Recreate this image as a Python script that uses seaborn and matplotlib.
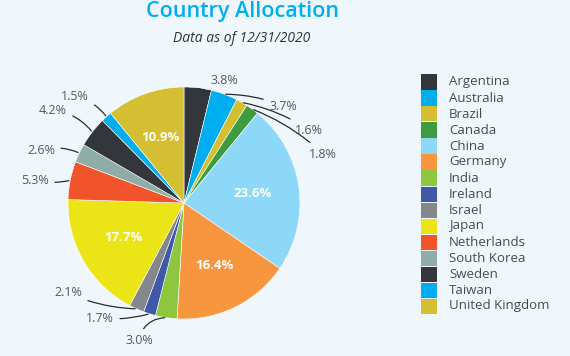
import numpy as np
import matplotlib
matplotlib.use('Agg')
import matplotlib.pyplot as plt
from matplotlib.patches import Rectangle
import seaborn as sns

# ---- data ----
countries = ['Argentina', 'Australia', 'Brazil', 'Canada', 'China', 'Germany', 'India',
             'Ireland', 'Israel', 'Japan', 'Netherlands', 'South Korea', 'Sweden',
             'Taiwan', 'United Kingdom']
weights = [3.8, 3.7, 1.6, 1.8, 23.6, 16.4, 3.0, 1.7, 2.1, 17.7, 5.3, 2.6, 4.2, 1.5, 10.9]
colors = ['#33363b', '#00aeef', '#d4be32', '#3f9b3f', '#8dd8f8', '#f7963e', '#8dc63f',
          '#3f58a8', '#85888b', '#ebe517', '#f1542b', '#8eada6', '#33363b', '#00aeef', '#d4be32']

# outside label centres (pixels from top-left), None = label inside the slice
label_px = [(224, 81), (283, 106), (309, 130), (323, 154), None, None, (139, 341),
            (100, 318), (68, 293), None, (35, 181), (41, 151), (53, 110), (75, 97), None]
arc_rad = [-0.5, 0.1, 0.1, 0.1, 0, 0, -0.4, 0.1, 0.1, 0, 0.1, -0.2, -0.2, -0.2, 0]

W, H = 570, 356
CX, CY, R = 184, 203, 116
BG = '#eff7fd'

sns.set_theme(style='white')
plt.rcParams['font.family'] = ['Open Sans', 'DejaVu Sans']

fig = plt.figure(figsize=(W / 100, H / 100), dpi=100, facecolor=BG)
ax = fig.add_axes([(CX - R) / W, (H - CY - R) / H, 2 * R / W, 2 * R / H])
ax.set_facecolor(BG)

wedges, _ = ax.pie(weights, colors=colors, startangle=90, counterclock=False,
                   wedgeprops=dict(edgecolor='white', linewidth=0.4))
ax.set_xlim(-1, 1)
ax.set_ylim(-1, 1)
ax.set_aspect('auto')
ax.axis('off')

for w, v, pos, rad in zip(wedges, weights, label_px, arc_rad):
    mid = np.deg2rad((w.theta1 + w.theta2) / 2)
    if pos is None:
        d = 0.6
        ax.text(d * np.cos(mid), d * np.sin(mid), f'{v:.1f}%', ha='center', va='center',
                color='white', fontsize=9.5, fontweight='bold')
        continue
    tx = (pos[0] - CX) / R
    ty = (CY - pos[1]) / R
    ax.annotate(f'{v:.1f}%', xy=(np.cos(mid), np.sin(mid)), xytext=(tx, ty),
                ha='center', va='center', fontsize=9, color='#555a60',
                annotation_clip=False,
                arrowprops=dict(arrowstyle='-', color='#2b2b2b', lw=0.9,
                                shrinkA=2, shrinkB=1,
                                connectionstyle=f'arc3,rad={rad}'))

# titles
fig.text(242 / W, 1 - 11 / H, 'Country Allocation', ha='center', va='center',
         fontsize=15.5, fontweight='semibold', color='#00aeef')
fig.text(242 / W, 1 - 38 / H, 'Data as of 12/31/2020', ha='center', va='center',
         fontsize=10, style='italic', color='#333333')

# legend
for i, (name, c) in enumerate(zip(countries, colors)):
    yc = 82 + 16 * i
    fig.patches.append(Rectangle((421 / W, 1 - (yc + 7.5) / H), 16 / W, 15 / H,
                                 transform=fig.transFigure, facecolor=c, edgecolor='none'))
    fig.text(449 / W, 1 - yc / H, name, ha='left', va='center', fontsize=9.5, color='#454a50')

fig.savefig('out.png', dpi=100, facecolor=BG)
